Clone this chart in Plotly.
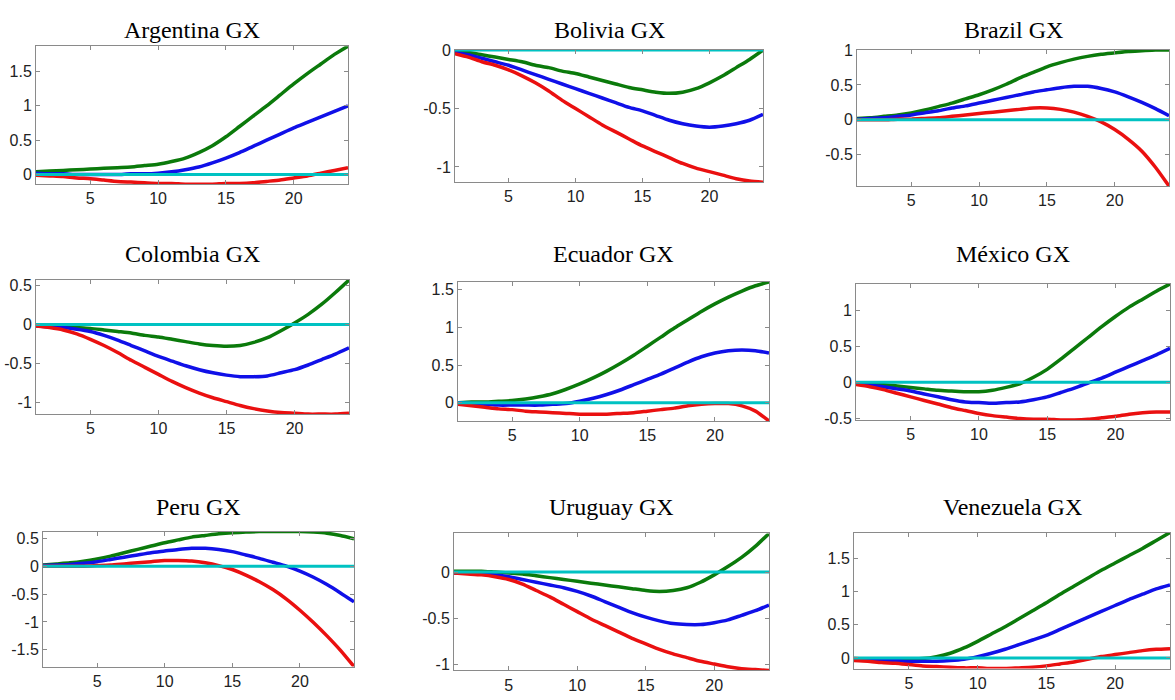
import plotly.graph_objects as go

# Horizon (periods) shared by every panel
horizon = list(range(1, 25))

countries = ["Argentina GX", "Bolivia GX", "Brazil GX",
             "Colombia GX", "Ecuador GX", "México GX",
             "Peru GX", "Uruguay GX", "Venezuela GX"]

# Upper band (green), median (blue), lower band (red) for each country
arg_upper = [0.04, 0.05, 0.06, 0.07, 0.08, 0.09, 0.10, 0.11, 0.13, 0.15, 0.19, 0.24,
             0.32, 0.42, 0.55, 0.70, 0.85, 1.00, 1.16, 1.32, 1.47, 1.61, 1.75, 1.87]
arg_median = [0.02, 0.01, 0.01, 0.00, 0.00, 0.00, 0.00, 0.01, 0.01, 0.02, 0.04, 0.07,
              0.11, 0.17, 0.24, 0.32, 0.41, 0.50, 0.59, 0.68, 0.76, 0.84, 0.92, 1.00]
arg_lower = [-0.01, -0.02, -0.03, -0.05, -0.06, -0.08, -0.10, -0.11, -0.12, -0.13, -0.13, -0.14,
             -0.14, -0.14, -0.13, -0.13, -0.12, -0.10, -0.08, -0.05, -0.02, 0.02, 0.06, 0.10]

bol_upper = [-0.01, -0.02, -0.04, -0.06, -0.08, -0.10, -0.13, -0.15, -0.18, -0.20, -0.23, -0.26,
             -0.29, -0.32, -0.34, -0.36, -0.37, -0.36, -0.33, -0.28, -0.22, -0.15, -0.08, 0.00]
bol_median = [-0.02, -0.04, -0.07, -0.10, -0.13, -0.17, -0.21, -0.25, -0.29, -0.33, -0.37, -0.41,
              -0.45, -0.49, -0.52, -0.56, -0.60, -0.63, -0.65, -0.66, -0.65, -0.63, -0.60, -0.55]
bol_lower = [-0.03, -0.06, -0.10, -0.13, -0.17, -0.22, -0.28, -0.35, -0.43, -0.50, -0.57, -0.64,
             -0.70, -0.76, -0.82, -0.87, -0.92, -0.97, -1.01, -1.04, -1.07, -1.10, -1.12, -1.13]

bra_upper = [0.02, 0.03, 0.05, 0.07, 0.10, 0.14, 0.19, 0.24, 0.30, 0.36, 0.43, 0.51,
             0.60, 0.68, 0.76, 0.82, 0.87, 0.91, 0.94, 0.96, 0.98, 0.99, 1.00, 1.00]
bra_median = [0.01, 0.02, 0.03, 0.05, 0.07, 0.10, 0.13, 0.17, 0.20, 0.24, 0.28, 0.32,
              0.36, 0.40, 0.43, 0.46, 0.48, 0.48, 0.45, 0.40, 0.33, 0.25, 0.16, 0.06]
bra_lower = [0.00, 0.00, 0.00, 0.01, 0.01, 0.02, 0.03, 0.05, 0.07, 0.09, 0.11, 0.13,
             0.15, 0.17, 0.17, 0.15, 0.11, 0.05, -0.03, -0.14, -0.28, -0.45, -0.68, -0.95]

col_upper = [-0.01, -0.01, -0.02, -0.04, -0.05, -0.07, -0.09, -0.11, -0.14, -0.16, -0.19, -0.22,
             -0.25, -0.27, -0.28, -0.27, -0.23, -0.17, -0.08, 0.02, 0.13, 0.26, 0.41, 0.57]
col_median = [-0.02, -0.03, -0.04, -0.06, -0.09, -0.14, -0.20, -0.27, -0.34, -0.41, -0.47, -0.53,
              -0.58, -0.62, -0.65, -0.67, -0.67, -0.66, -0.62, -0.58, -0.52, -0.45, -0.38, -0.30]
col_lower = [-0.02, -0.04, -0.07, -0.12, -0.19, -0.27, -0.36, -0.46, -0.55, -0.64, -0.73, -0.81,
             -0.88, -0.94, -0.99, -1.04, -1.08, -1.11, -1.13, -1.14, -1.15, -1.15, -1.15, -1.14]

ecu_upper = [0.00, 0.01, 0.01, 0.02, 0.03, 0.05, 0.08, 0.12, 0.18, 0.25, 0.33, 0.42,
             0.52, 0.63, 0.75, 0.87, 0.99, 1.10, 1.21, 1.31, 1.40, 1.48, 1.55, 1.60]
ecu_median = [0.00, -0.01, -0.02, -0.03, -0.03, -0.03, -0.03, -0.02, -0.01, 0.02, 0.06, 0.11,
              0.17, 0.24, 0.31, 0.38, 0.46, 0.54, 0.61, 0.66, 0.69, 0.70, 0.69, 0.66]
ecu_lower = [-0.02, -0.04, -0.06, -0.08, -0.09, -0.11, -0.12, -0.13, -0.14, -0.15, -0.15, -0.15,
             -0.14, -0.13, -0.11, -0.09, -0.07, -0.04, -0.02, -0.01, -0.01, -0.04, -0.11, -0.24]

mex_upper = [-0.02, -0.02, -0.03, -0.05, -0.07, -0.09, -0.11, -0.12, -0.13, -0.13, -0.11, -0.07,
             -0.02, 0.07, 0.18, 0.32, 0.47, 0.62, 0.77, 0.91, 1.04, 1.15, 1.26, 1.36]
mex_median = [-0.02, -0.04, -0.06, -0.09, -0.12, -0.16, -0.20, -0.24, -0.27, -0.28, -0.29, -0.28,
              -0.27, -0.24, -0.20, -0.14, -0.08, -0.01, 0.06, 0.14, 0.22, 0.30, 0.38, 0.47]
mex_lower = [-0.03, -0.06, -0.10, -0.15, -0.20, -0.25, -0.30, -0.35, -0.39, -0.43, -0.46, -0.48,
             -0.50, -0.51, -0.51, -0.52, -0.52, -0.51, -0.49, -0.47, -0.44, -0.42, -0.41, -0.41]

per_upper = [0.02, 0.04, 0.06, 0.09, 0.13, 0.18, 0.24, 0.30, 0.36, 0.42, 0.47, 0.52,
             0.55, 0.58, 0.60, 0.61, 0.62, 0.62, 0.62, 0.62, 0.61, 0.59, 0.55, 0.49]
per_median = [0.01, 0.02, 0.03, 0.05, 0.08, 0.12, 0.16, 0.20, 0.24, 0.27, 0.30, 0.32,
              0.32, 0.30, 0.26, 0.20, 0.14, 0.07, 0.00, -0.09, -0.20, -0.33, -0.48, -0.64]
per_lower = [0.00, 0.00, 0.00, 0.00, 0.01, 0.02, 0.04, 0.06, 0.08, 0.10, 0.10, 0.09,
             0.06, 0.01, -0.06, -0.16, -0.28, -0.42, -0.59, -0.79, -1.01, -1.25, -1.51, -1.80]

uru_upper = [0.01, 0.01, 0.01, 0.00, -0.01, -0.02, -0.04, -0.06, -0.08, -0.10, -0.12, -0.14,
             -0.16, -0.18, -0.20, -0.21, -0.20, -0.17, -0.11, -0.03, 0.06, 0.16, 0.28, 0.42]
uru_median = [-0.01, -0.01, -0.02, -0.03, -0.05, -0.08, -0.11, -0.14, -0.17, -0.21, -0.26, -0.32,
              -0.38, -0.44, -0.49, -0.53, -0.56, -0.57, -0.57, -0.55, -0.52, -0.47, -0.42, -0.36]
uru_lower = [-0.01, -0.02, -0.03, -0.05, -0.08, -0.13, -0.20, -0.27, -0.35, -0.43, -0.51, -0.58,
             -0.65, -0.72, -0.78, -0.84, -0.89, -0.93, -0.97, -1.00, -1.03, -1.05, -1.06, -1.07]

ven_upper = [-0.01, -0.02, -0.02, -0.03, -0.02, -0.01, 0.02, 0.07, 0.15, 0.25, 0.36, 0.47,
             0.59, 0.71, 0.83, 0.96, 1.08, 1.20, 1.32, 1.43, 1.54, 1.65, 1.77, 1.89]
ven_median = [-0.02, -0.03, -0.04, -0.04, -0.05, -0.05, -0.05, -0.04, -0.02, 0.02, 0.07, 0.13,
              0.20, 0.27, 0.34, 0.43, 0.52, 0.61, 0.70, 0.79, 0.88, 0.96, 1.04, 1.10]
ven_lower = [-0.04, -0.05, -0.07, -0.08, -0.10, -0.12, -0.13, -0.14, -0.15, -0.15, -0.16, -0.16,
             -0.15, -0.14, -0.12, -0.09, -0.06, -0.02, 0.02, 0.05, 0.08, 0.11, 0.13, 0.14]

upper = [arg_upper, bol_upper, bra_upper, col_upper, ecu_upper, mex_upper, per_upper, uru_upper, ven_upper]
median = [arg_median, bol_median, bra_median, col_median, ecu_median, mex_median, per_median, uru_median, ven_median]
lower = [arg_lower, bol_lower, bra_lower, col_lower, ecu_lower, mex_lower, per_lower, uru_lower, ven_lower]

# Y ticks per panel
y_ticks = [[0, 0.5, 1, 1.5], [-1, -0.5, 0], [-0.5, 0, 0.5, 1],
           [-1, -0.5, 0, 0.5], [0, 0.5, 1, 1.5], [-0.5, 0, 0.5, 1],
           [-1.5, -1, -0.5, 0, 0.5], [-1, -0.5, 0], [0, 0.5, 1, 1.5]]
x_ticks = [5, 10, 15, 20]

W, H = 1175, 700
# Plot-area boxes in pixels: (left, right, top, bottom)
boxes = [(36, 348, 39, 180), (455, 763, 43, 178), (857, 1169, 43, 182),
         (36, 349, 278, 415), (458, 769, 280, 422), (856, 1170, 282, 421),
         (43, 354, 535, 673), (454, 769, 537, 677), (854, 1170, 536, 675)]
title_y = [22, 22, 22, 251, 251, 251, 510, 510, 510]

GREEN = "#0b7a0b"
BLUE = "#1010e8"
RED = "#ea1010"
CYAN = "#00c2c2"
AXIS_GRAY = "#8a8a8a"


def tick_text(v):
    # plain hyphen-minus labels, trailing zeros trimmed
    return "%g" % v


fig = go.Figure()
annotations = []
for i, name in enumerate(countries):
    k = "" if i == 0 else str(i + 1)
    xa, ya = "x" + k, "y" + k
    l, r, t, b = boxes[i]
    series = [(upper[i], GREEN), (median[i], BLUE), (lower[i], RED)]
    for vals, col in series:
        fig.add_trace(go.Scatter(x=horizon, y=vals, mode="lines",
                                 line=dict(color=col, width=3.5, shape="spline", smoothing=0.6),
                                 xaxis=xa, yaxis=ya, showlegend=False, hoverinfo="skip"))
    fig.add_trace(go.Scatter(x=horizon, y=[0] * len(horizon), mode="lines",
                             line=dict(color=CYAN, width=3),
                             xaxis=xa, yaxis=ya, showlegend=False, hoverinfo="skip"))
    lo = min(min(lower[i]), min(median[i]), min(upper[i]), 0)
    hi = max(max(lower[i]), max(median[i]), max(upper[i]), 0)
    axis_common = dict(showgrid=False, zeroline=False, showline=True, linecolor=AXIS_GRAY,
                       linewidth=1, mirror="ticks", ticks="inside", ticklen=4,
                       tickcolor=AXIS_GRAY, tickfont=dict(family="Liberation Sans", size=16,
                                                          color="#222222"))
    fig.layout["xaxis" + k] = dict(axis_common, domain=[l / W, r / W], anchor=ya,
                                   range=[1, 24], tickvals=x_ticks,
                                   ticktext=[str(v) for v in x_ticks])
    fig.layout["yaxis" + k] = dict(axis_common, domain=[1 - b / H, 1 - t / H], anchor=xa,
                                   range=[lo, hi], tickvals=y_ticks[i],
                                   ticktext=[tick_text(v) for v in y_ticks[i]])
    annotations.append(dict(text=name, x=(l + r) / 2 / W, y=1 - title_y[i] / H,
                            xref="paper", yref="paper", xanchor="center", yanchor="middle",
                            showarrow=False,
                            font=dict(family="Liberation Serif", size=24, color="#000000")))

fig.update_layout(width=W, height=H, margin=dict(l=0, r=0, t=0, b=0),
                  paper_bgcolor="white", plot_bgcolor="white", annotations=annotations)
fig.write_html("out.html")
